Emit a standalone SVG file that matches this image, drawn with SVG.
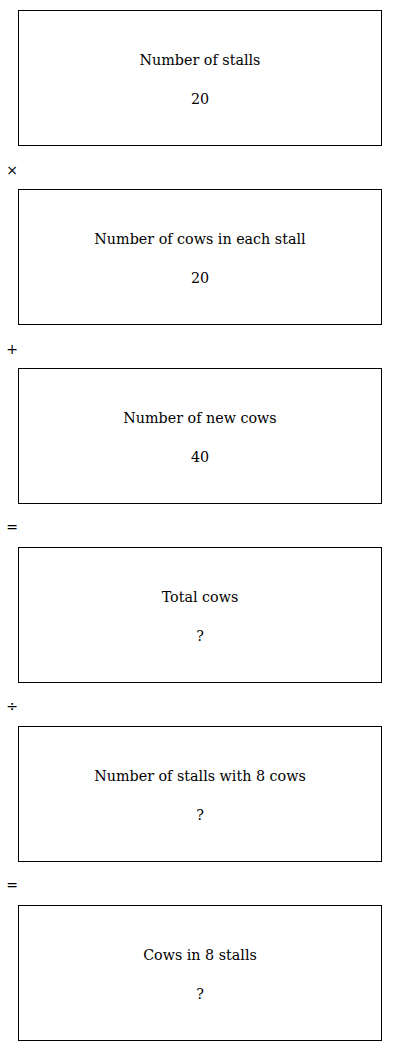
<svg xmlns="http://www.w3.org/2000/svg" width="400" height="1051" viewBox="0 0 400 1051">
<style>
.box{fill:#fff;stroke:#000;stroke-width:1}
.t{font-family:"DejaVu Serif","Liberation Serif",serif;font-size:14.3px;fill:#000;text-anchor:middle}
.op{font-family:"DejaVu Sans","Liberation Sans",sans-serif;font-size:14px;fill:#000;text-anchor:middle}
</style>
<rect width="400" height="1051" fill="#fff"/>
<g id="n1"><rect class="box" x="18.5" y="10.5" width="363" height="135"/><text class="t" x="200" y="65">Number of stalls</text><text class="t" x="200" y="104">20</text></g>
<g id="n2"><rect class="box" x="18.5" y="189.5" width="363" height="135"/><text class="t" x="200" y="244">Number of cows in each stall</text><text class="t" x="200" y="283">20</text></g>
<g id="n3"><rect class="box" x="18.5" y="368.5" width="363" height="135"/><text class="t" x="200" y="423">Number of new cows</text><text class="t" x="200" y="462">40</text></g>
<g id="n4"><rect class="box" x="18.5" y="547.5" width="363" height="135"/><text class="t" x="200" y="602">Total cows</text><text class="t" x="200" y="641">?</text></g>
<g id="n5"><rect class="box" x="18.5" y="726.5" width="363" height="135"/><text class="t" x="200" y="781">Number of stalls with 8 cows</text><text class="t" x="200" y="820">?</text></g>
<g id="n6"><rect class="box" x="18.5" y="905.5" width="363" height="135"/><text class="t" x="200" y="960">Cows in 8 stalls</text><text class="t" x="200" y="999">?</text></g>
<g id="ops">
<text class="op" x="12" y="175">×</text>
<text class="op" x="12" y="354">+</text>
<text class="op" x="12" y="532">=</text>
<text class="op" x="12" y="711">÷</text>
<text class="op" x="12" y="890">=</text>
</g>
</svg>
